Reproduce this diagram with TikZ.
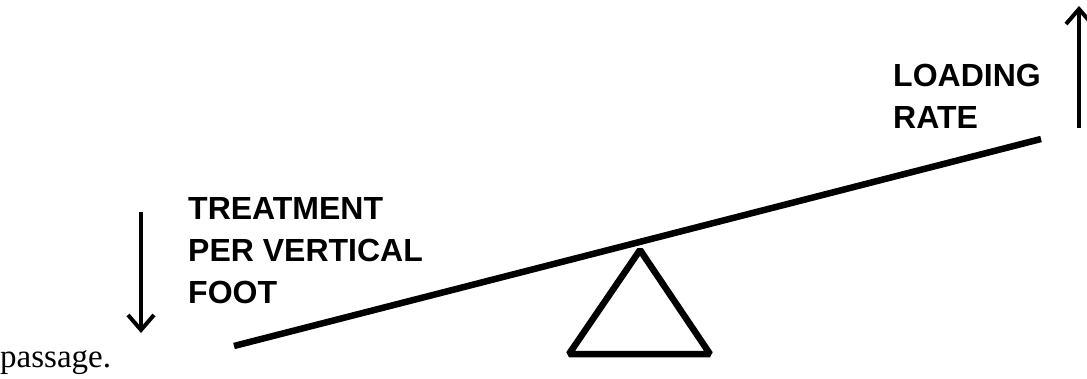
\documentclass[tikz,border=0pt]{standalone}
\usepackage{fontspec}
\setmainfont{Liberation Serif}
\newfontfamily\labelfont{Liberation Sans}
\usetikzlibrary{arrows.meta,positioning}
\definecolor{ink}{HTML}{000000}
\tikzset{
  caption/.style={anchor=north west, inner sep=0pt, align=left, text=ink, font=\labelfont\bfseries\fontsize{32}{42}\selectfont},
  beam/.style={draw=ink, line width=6.5pt},
  fulcrum/.style={draw=ink, line width=6.5pt, line join=bevel},
  arrow/.style={-{Straight Barb[length=15pt, width=26pt]}, line width=4pt, draw=ink}
}
\begin{document}
\begin{tikzpicture}[x=1pt, y=-1pt]
  \useasboundingbox (0,0) rectangle (1087,379);

  % lever and pivot
  \coordinate (beamleft) at (234,346);
  \coordinate (beamright) at (1041,139);
  \coordinate (apex) at (640,250);
  \coordinate (baseleft) at (569,354);
  \coordinate (baseright) at (710,354);
  \draw[fulcrum] (apex) -- (baseright) -- (baseleft) -- cycle;
  \draw[beam] (beamleft) -- (beamright);

  % labels
  \node[caption] (treatment) at (188,197) {TREATMENT\\PER VERTICAL\\FOOT};
  \node[caption] (loading) at (893,64) {LOADING\\RATE};
  \node[anchor=base west, inner sep=0pt, font=\fontsize{33}{40}\selectfont] (passage) at (0,367) {passage.};

  % direction arrows
  \coordinate (downtop) at (141,212);
  \coordinate (downtip) at (141,333);
  \coordinate (upbottom) at (1079,128);
  \coordinate (uptip) at (1079,6);
  \draw[arrow] (downtop) -- (downtip);
  \draw[arrow] (upbottom) -- (uptip);
\end{tikzpicture}
\end{document}
